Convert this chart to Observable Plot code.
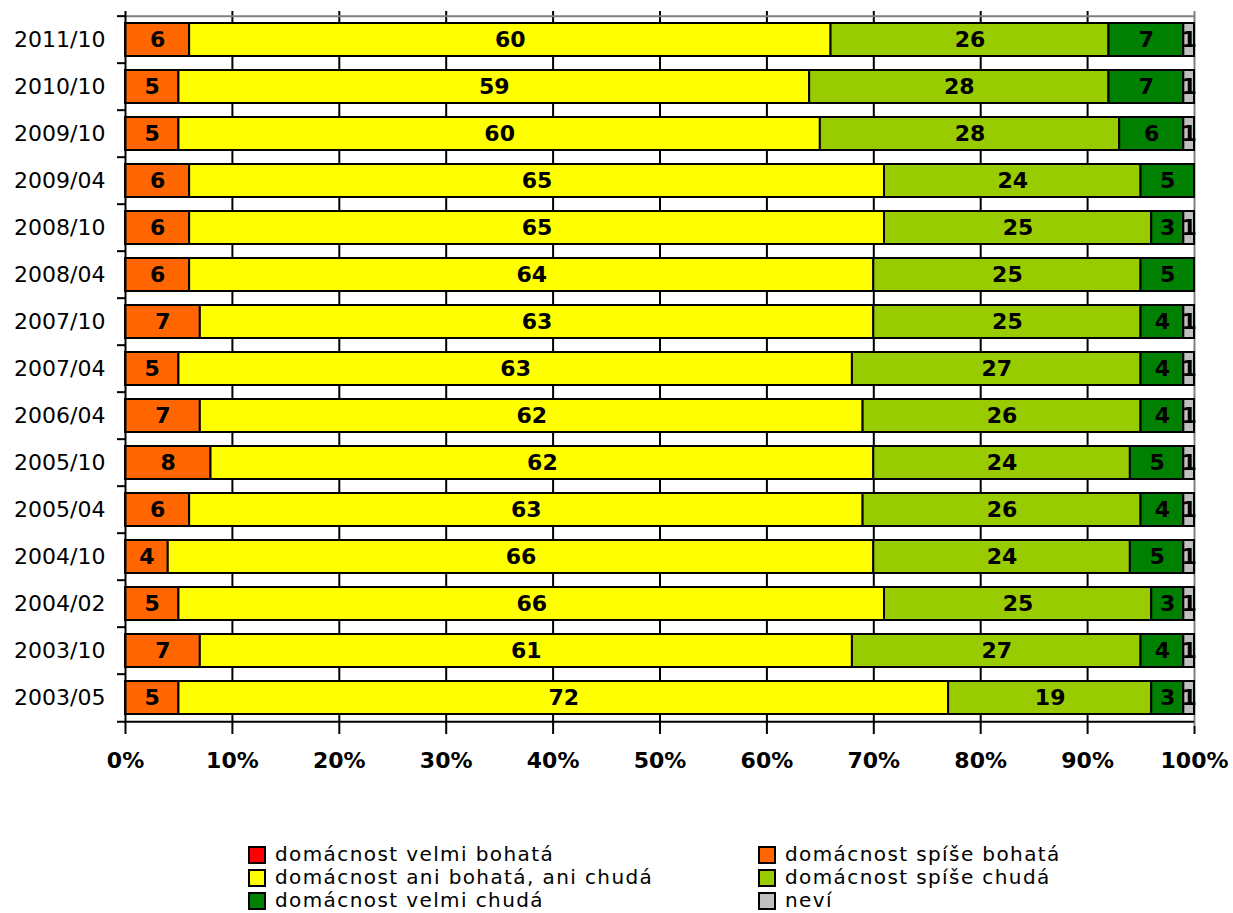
<!DOCTYPE html>
<html>
<head>
<meta charset="utf-8">
<script src="https://cdn.jsdelivr.net/npm/d3@7"></script>
<script src="https://cdn.jsdelivr.net/npm/@observablehq/plot@0.6"></script>
<style>
  html, body { margin: 0; padding: 0; background: #fff; }
  #wrap { position: relative; width: 1233px; height: 913px; font-family: "DejaVu Sans", Verdana, sans-serif; }
  #legend { position: absolute; left: 248px; top: 843px; font-size: 20px; line-height: 23px; letter-spacing: 1.4px; color: #000; }
  .row { display: flex; height: 23px; }
  .item { display: flex; align-items: center; width: 510px; white-space: nowrap; }
  .sw { width: 14px; height: 14px; border: 2px solid #000; margin-right: 9px; flex: none; }
</style>
</head>
<body>
<div id="wrap"><div id="chart"></div><div id="legend"></div></div>
<script>
const periods = ["2011/10","2010/10","2009/10","2009/04","2008/10","2008/04","2007/10","2007/04","2006/04","2005/10","2005/04","2004/10","2004/02","2003/10","2003/05"];
const series = ["domácnost velmi bohatá","domácnost spíše bohatá","domácnost ani bohatá, ani chudá","domácnost spíše chudá","domácnost velmi chudá","neví"];
const colors = ["#FF0000","#FF6600","#FFFF00","#99CC00","#008000","#C0C0C0"];
const velmiBohata = [0,0,0,0,0,0,0,0,0,0,0,0,0,0,0];
const spiseBohata = [6,5,5,6,6,6,7,5,7,8,6,4,5,7,5];
const aniAni      = [60,59,60,65,65,64,63,63,62,62,63,66,66,61,72];
const spiseChuda  = [26,28,28,24,25,25,25,27,26,24,26,24,25,27,19];
const velmiChuda  = [7,7,6,5,3,5,4,4,4,5,4,5,3,4,3];
const nevi        = [1,1,1,0,1,0,1,1,1,1,1,1,1,1,1];
const xTicks = [0,10,20,30,40,50,60,70,80,90,100];

const seriesValues = [velmiBohata, spiseBohata, aniAni, spiseChuda, velmiChuda, nevi];
const data = [];
periods.forEach((p, i) => {
  series.forEach((s, j) => data.push({period: p, series: s, value: seriesValues[j][i]}));
});
const shown = data.filter(d => d.value > 0);

const W = 1233, H = 800, mt = 11, mb = 74, ml = 125, mr = 39;
const step = (H - mt - mb) / periods.length;
const tickLen = 8 / (W - ml - mr) * 100;

const chart = Plot.plot({
  width: W, height: H,
  marginTop: mt, marginBottom: mb, marginLeft: ml, marginRight: mr,
  style: {fontFamily: "DejaVu Sans", fontSize: "22px", color: "#000", background: "#fff", overflow: "visible"},
  x: {domain: [0, 100], ticks: xTicks},
  y: {domain: periods, paddingInner: 0.29, paddingOuter: 0.145},
  color: {domain: series, range: colors},
  marks: [
    Plot.ruleX(xTicks.filter(t => t > 0 && t < 100), {stroke: "#000", strokeWidth: 2}),
    Plot.ruleX([100], {stroke: "#808080", strokeWidth: 2}),
    Plot.ruleY([periods[0]], {x1: 0, x2: 100, dy: -step / 2, stroke: "#808080", strokeWidth: 2}),
    Plot.barX(shown, Plot.stackX({x: "value", y: "period", fill: "series", order: series, stroke: "#000", strokeWidth: 2})),
    Plot.text(shown, Plot.stackX({x: "value", y: "period", z: "series", order: series, text: d => String(d.value), fontWeight: "bold", fontSize: 22, fill: "#000"})),
    Plot.ruleX([0], {stroke: "#000", strokeWidth: 2}),
    Plot.ruleY(periods, {x1: -tickLen, x2: 0, dy: -step / 2, stroke: "#000", strokeWidth: 2}),
    Plot.ruleY([periods[periods.length - 1]], {x1: -tickLen, x2: 100, dy: step / 2, stroke: "#000", strokeWidth: 2}),
    Plot.axisX({ticks: xTicks, tickSize: 8, tickPadding: 18, tickFormat: d => d + "%", fontWeight: "bold", fontSize: 22, stroke: "#000", strokeWidth: 2, label: null}),
    Plot.axisY({tickSize: 0, tickPadding: 20, fontSize: 22, label: null})
  ]
});
document.getElementById("chart").appendChild(chart);

const legend = document.getElementById("legend");
const order = [[0,1],[2,3],[4,5]];
order.forEach(pair => {
  const row = document.createElement("div");
  row.className = "row";
  pair.forEach(j => {
    const it = document.createElement("div");
    it.className = "item";
    const sw = document.createElement("span");
    sw.className = "sw";
    sw.style.background = colors[j];
    const tx = document.createElement("span");
    tx.textContent = series[j];
    it.appendChild(sw); it.appendChild(tx);
    row.appendChild(it);
  });
  legend.appendChild(row);
});
</script>
</body>
</html>
